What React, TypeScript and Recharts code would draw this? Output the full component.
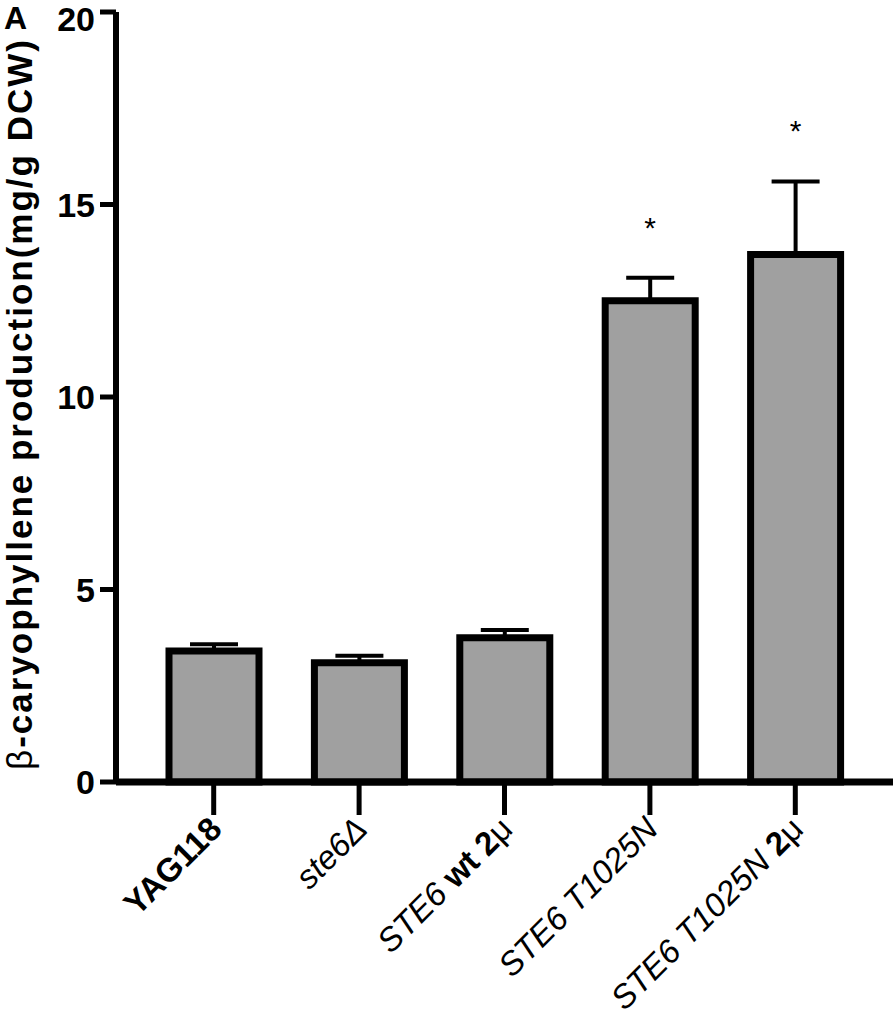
import React from "react"
import { BarChart, Bar, XAxis, YAxis, ErrorBar, LabelList } from "recharts"

const categories = ["YAG118", "ste6Δ", "STE6 wt 2μ", "STE6 T1025N", "STE6 T1025N 2μ"]
const means = [3.4, 3.1, 3.75, 12.5, 13.7]
const errors = [0.18, 0.18, 0.2, 0.6, 1.9]
const stars = ["", "", "", "*", "*"]
const yTicks = [0, 5, 10, 15, 20]

const FONT = "'Liberation Sans', Arial, Helvetica, sans-serif"

// how each tick label is set: b = bold, i = italic, n = plain
const labelStyles: Record<string, [string, string][]> = {
  "YAG118": [["YAG118", "b"]],
  "ste6Δ": [["ste6Δ", "i"]],
  "STE6 wt 2μ": [["STE6 ", "i"], ["wt 2", "b"], ["μ", "n"]],
  "STE6 T1025N": [["STE6 T1025N", "i"]],
  "STE6 T1025N 2μ": [["STE6 T1025N ", "i"], ["2", "b"], ["μ", "n"]],
}

const data = categories.map((name, i) => ({
  name,
  mean: means[i],
  err: [0, errors[i]],
}))

const XTick = (props: any) => {
  const { x, y, payload } = props
  const parts = labelStyles[payload.value] || [[payload.value, "n"]]
  return (
    <g transform={`translate(${x + 10},${y + 14}) rotate(-45)`}>
      <text x={0} y={0} textAnchor="end" fontSize={33} fill="#000" fontFamily={FONT} style={{ whiteSpace: "pre" }}>
        {parts.map(([t, s], k) => (
          <tspan key={k} fontWeight={s === "b" ? "bold" : "normal"} fontStyle={s === "i" ? "italic" : "normal"}>
            {t}
          </tspan>
        ))}
      </text>
    </g>
  )
}

const StarLabel = (props: any) => {
  const { x, y, width, height, index } = props
  if (!stars[index]) return null
  // place the star above the top of the error bar
  const pxPerUnit = height / means[index]
  const capY = y - errors[index] * pxPerUnit
  return (
    <text x={x + width / 2} y={capY - 40} textAnchor="middle" fontSize={30} fill="#000" fontFamily={FONT}>
      {stars[index]}
    </text>
  )
}

const YLabel = (props: any) => {
  const vb = props.viewBox || { x: 0, y: 12, height: 770 }
  const cx = 32
  const cy = vb.y + vb.height / 2 + 7
  return (
    <text
      x={cx}
      y={cy}
      transform={`rotate(-90 ${cx} ${cy})`}
      textAnchor="middle"
      fontSize={35}
      fontWeight="bold"
      letterSpacing={2}
      fill="#000"
      fontFamily={FONT}
    >
      <tspan fontWeight="normal">β</tspan>-caryophyllene production(mg/g DCW)
    </text>
  )
}

export default function App() {
  return (
    <div style={{ position: "absolute", left: 0, top: 0, width: 896, height: 1020, background: "#fff" }}>
      <div
        style={{
          position: "absolute",
          left: 4,
          top: 0,
          fontFamily: FONT,
          fontWeight: "bold",
          fontSize: 32,
          lineHeight: "normal",
          color: "#000",
        }}
      >
        A
      </div>
      <BarChart width={896} height={1020} data={data} margin={{ top: 12, right: 3, bottom: 0, left: 0 }}>
        <XAxis
          dataKey="name"
          height={238}
          padding={{ left: 25, right: 25 }}
          axisLine={{ stroke: "#000", strokeWidth: 7 }}
          tickLine={{ stroke: "#000", strokeWidth: 5 }}
          tickSize={33}
          tick={<XTick />}
          interval={0}
        />
        <YAxis
          width={116}
          domain={[0, 20]}
          ticks={yTicks}
          axisLine={{ stroke: "#000", strokeWidth: 6 }}
          tickLine={{ stroke: "#000", strokeWidth: 5 }}
          tickSize={16}
          tickMargin={5}
          tick={{ fill: "#000", fontSize: 34, fontWeight: "bold", fontFamily: FONT }}
          label={<YLabel />}
        />
        <Bar dataKey="mean" fill="#a0a0a0" stroke="#000" strokeWidth={7} barSize={90} isAnimationActive={false}>
          <ErrorBar dataKey="err" direction="y" width={24} stroke="#000" strokeWidth={4} />
          <LabelList dataKey="mean" content={<StarLabel />} />
        </Bar>
      </BarChart>
    </div>
  )
}
